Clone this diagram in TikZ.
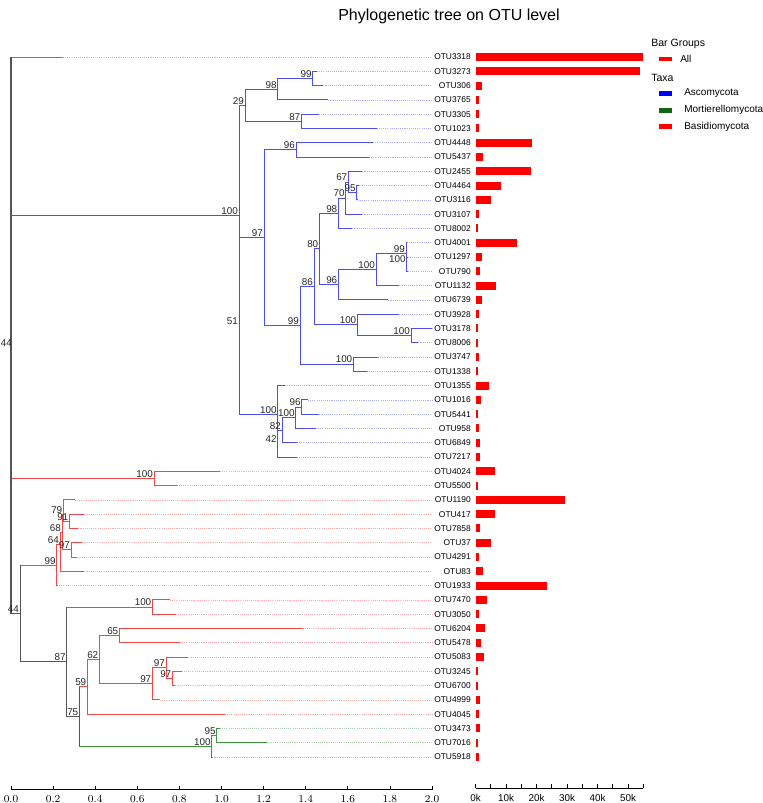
\documentclass[tikz,border=0pt]{standalone}
\usepackage{fontspec}
\setmainfont{Liberation Sans}
\definecolor{asco}{HTML}{4E4EEA}
\definecolor{basi}{HTML}{F04848}
\definecolor{mort}{HTML}{3A963A}
\definecolor{stemgray}{HTML}{555555}
\tikzset{
  br/.style={line width=0.75pt},
  stem/.style={line width=0.75pt, stemgray},
  leader/.style={#1!45, line width=0.5pt, dash pattern=on 0.8pt off 0.8pt},
  otu/.style={anchor=east, inner sep=0pt, font=\fontsize{6.3}{7}\selectfont},
  boot/.style={anchor=south east, inner sep=0.6pt, text=black!85, font=\fontsize{7.4}{8}\selectfont},
  bar/.style={fill=red},
  key/.style={minimum width=9.75pt, minimum height=3.5pt, inner sep=0pt},
  lg/.style={anchor=west, inner sep=0pt, font=\fontsize{7.5}{9}\selectfont},
  tick/.style={line width=0.6pt},
}
\begin{document}
\begin{tikzpicture}[x=0.75pt,y=-0.75pt]
\useasboundingbox (0,0) rectangle (763,803);

\node[font=\fontsize{12}{14}\selectfont] (title) at (449,16) {Phylogenetic tree on OTU level};

% leaves: row/name/tip/bar/taxon
\foreach \i/\n/\t/\b/\c in {
  1/OTU3318/63/167/basi, 2/OTU3273/317/164/asco, 3/OTU306/323.3/6/asco,
  4/OTU3765/328.3/3.7/asco, 5/OTU3305/319/3.7/asco, 6/OTU1023/376.7/3/asco,
  7/OTU4448/373/56.7/asco, 8/OTU5437/369/7/asco, 9/OTU2455/362.3/55.7/asco,
  10/OTU4464/359.3/25/asco, 11/OTU3116/357.7/15/asco, 12/OTU3107/362.3/3.3/asco,
  13/OTU8002/352.3/2.3/asco, 14/OTU4001/406.7/41.7/asco, 15/OTU1297/407.3/6/asco,
  16/OTU790/407.7/4/asco, 17/OTU1132/399.3/20/asco, 18/OTU6739/388.3/6.3/asco,
  19/OTU3928/399.3/3.3/asco, 20/OTU3178/431.7/2.7/asco, 21/OTU8006/418.3/2/asco,
  22/OTU3747/378/3.3/asco, 23/OTU1338/366.7/2/asco, 24/OTU1355/285/13/asco,
  25/OTU1016/308/5/asco, 26/OTU5441/319.3/2/asco, 27/OTU958/316/3.7/asco,
  28/OTU6849/297/4/asco, 29/OTU7217/296.7/4/asco, 30/OTU4024/220/19/basi,
  31/OTU5500/176.7/2/basi, 32/OTU1190/75/89.7/basi, 33/OTU417/84.3/19.7/basi,
  34/OTU7858/78.3/4.3/basi, 35/OTU37/82.3/15.7/basi, 36/OTU4291/77.3/3.3/basi,
  37/OTU83/84.3/7.7/basi, 38/OTU1933/57/71.3/basi, 39/OTU7470/170/11.7/basi,
  40/OTU3050/175.7/3/basi, 41/OTU6204/302.7/9.3/basi, 42/OTU5478/180/5.3/basi,
  43/OTU5083/188.3/8.3/basi, 44/OTU3245/181.7/2.7/basi, 45/OTU6700/175.3/2.3/basi,
  46/OTU4999/160/4.3/basi, 47/OTU4045/225/3.7/basi, 48/OTU3473/220/4/mort,
  49/OTU7016/266.7/2.7/mort, 50/OTU5918/212.3/3.3/mort}{
  \pgfmathsetmacro\y{57+14.2857*(\i-1)}
  \coordinate (l\i) at (\t,\y);
  \coordinate (d\i) at (432,\y);
  \draw[leader=\c] (l\i) -- (d\i);
  \node[otu] (otu\i) at (471,\y) {\n};
  \fill[bar] (475.5,\y-4) rectangle (475.5+\b,\y+4);
}

% inner nodes
\coordinate (R) at (11,335);
\coordinate (A100) at (239,215.7);
\coordinate (A29) at (245,105.2);
\coordinate (A98) at (277.7,89.2);
\coordinate (A99) at (312.7,78.45);
\coordinate (A87) at (301.3,121.25);
\coordinate (A51) at (239,326.15);
\coordinate (A97) at (264,237.7);
\coordinate (A96) at (296,149.85);
\coordinate (A99b) at (300,325.5);
\coordinate (A86) at (314,286.9);
\coordinate (A80) at (319.3,248.95);
\coordinate (A98b) at (338.3,213.2);
\coordinate (A70) at (345.7,198.05);
\coordinate (A67) at (348.3,182);
\coordinate (A95) at (356.7,192.75);
\coordinate (A96b) at (338.3,284.7);
\coordinate (A100b) at (376,269.5);
\coordinate (A99c) at (406,253.4);
\coordinate (A100a) at (406.7,264.15);
\coordinate (A100c) at (357.3,324.8);
\coordinate (A100f) at (411,335.55);
\coordinate (A100d) at (353.3,364.15);
\coordinate (A100e) at (277.7,414.6);
\coordinate (A42) at (277.7,443.6);
\coordinate (A82) at (282,430.2);
\coordinate (A100g) at (295.7,417.7);
\coordinate (A96c) at (301.7,407);
\coordinate (B100) at (154,478.45);
\coordinate (N44) at (20,613.5);
\coordinate (N99) at (56.7,565.2);
\coordinate (N64) at (60,544.8);
\coordinate (N68) at (62,532.2);
\coordinate (N79) at (63.3,514.6);
\coordinate (N91) at (69.3,521.25);
\coordinate (N97) at (71,549.85);
\coordinate (N87) at (66.7,661.8);
\coordinate (N100) at (152.3,607);
\coordinate (N75) at (79.3,716.6);
\coordinate (N59) at (87.3,686.9);
\coordinate (N62) at (99.3,659.7);
\coordinate (N65) at (119.3,635.55);
\coordinate (N97a) at (152.3,683.8);
\coordinate (N97b) at (166,667.7);
\coordinate (N97c) at (172.3,678.45);
\coordinate (G100) at (211.7,746.3);
\coordinate (G95) at (216.7,735.55);

% branches
\foreach \p/\c in {R/A100, A100/A29, A100/A51, A29/A98, A29/A87, A98/A99, A98/l4,
  A99/l2, A99/l3, A87/l5, A87/l6, A51/A97, A51/A100e, A97/A96, A97/A99b, A96/l7,
  A96/l8, A99b/A86, A99b/A100d, A86/A80, A86/A100c, A80/A98b, A80/A96b, A98b/A70,
  A98b/l13, A70/A67, A70/l12, A67/l9, A67/A95, A95/l10, A95/l11, A96b/A100b,
  A96b/l18, A100b/A99c, A100b/l17, A99c/l14, A99c/A100a, A100a/l15, A100a/l16,
  A100c/l19, A100c/A100f, A100f/l20, A100f/l21, A100d/l22, A100d/l23, A100e/l24,
  A100e/A42, A42/A82, A42/l29, A82/A100g, A82/l28, A100g/A96c, A100g/l27,
  A96c/l25, A96c/l26}
  \draw[br, asco] (\p) |- (\c);
\foreach \p/\c in {R/l1, R/B100, B100/l30, B100/l31, N44/N99, N99/N64, N99/l38,
  N64/N68, N64/l37, N68/N79, N68/N97, N79/l32, N79/N91, N91/l33, N91/l34, N97/l35,
  N97/l36, N87/N100, N100/l39, N100/l40, N75/N59, N59/N62, N59/l47, N62/N65,
  N62/N97a, N65/l41, N65/l42, N97a/N97b, N97a/l46, N97b/l43, N97b/N97c, N97c/l44,
  N97c/l45}
  \draw[br, basi] (\p) |- (\c);
\foreach \p/\c in {N75/G100, G100/G95, G100/l50, G95/l48, G95/l49}
  \draw[br, mort] (\p) |- (\c);
\foreach \p/\c in {R/N44, N44/N87, N87/N75}
  \draw[stem] (\p) |- (\c);
\draw[stem, line width=1.2pt] (l1 -| R) -- (N44 -| R);
\draw[stem] (N99 -| N44) -- (N87 -| N44);
\draw[stem] (N100 -| N87) -- (N75 -| N87);
\draw[stem] (N59 -| N75) -- (G100 -| N75);

% bootstrap values
\foreach \n/\v in {A100/100, A29/29, A98/98, A99/99, A87/87, A51/51, A97/97,
  A96/96, A99b/99, A86/86, A80/80, A98b/98, A70/70, A67/67, A95/95, A96b/96,
  A100b/100, A99c/99, A100a/100, A100c/100, A100f/100, A100d/100, A100e/100,
  A42/42, A82/82, A100g/100, A96c/96, B100/100, N44/44, N99/99, N64/64, N68/68,
  N79/79, N91/91, N97/97, N87/87, N100/100, N75/75, N59/59, N62/62, N65/65,
  N97a/97, N97b/97, N97c/97, G100/100, G95/95}
  \node[boot] (b\n) at (\n) {\v};
\node[boot, anchor=east] (bR) at ([xshift=1.5,yshift=-6]R) {44};

% tree axis
\coordinate (ax0) at (11,789.5);
\coordinate (ax1) at (432,789.5);
\draw[tick] (ax0) -- (ax1);
\foreach \k in {0,...,10}{
  \pgfmathsetmacro\v{0.2*\k}
  \draw[tick] (11+42.1*\k,789.5) -- ++(0,-4);
  \node[font=\fontsize{7.8}{9}\selectfont] (ax\k) at (11+42.1*\k,799.5)
    {\pgfmathprintnumber[fixed,fixed zerofill,precision=1]{\v}};
}

% bar axis
\coordinate (bx0) at (475.5,788);
\coordinate (bx1) at (643,788);
\draw[tick] (bx0) -- (bx1);
\foreach \k in {0,...,11}
  \draw[tick] (475.5+15.25*\k,788) -- ++(0,-4);
\foreach \k/\t in {0/0k, 1/10k, 2/20k, 3/30k, 4/40k, 5/50k}
  \node[font=\fontsize{7.4}{9}\selectfont] (bl\k) at (475.5+30.5*\k,797.5) {\t};

% legend
\node[lg, font=\fontsize{7.9}{9}\selectfont] (lgBar) at (651,44) {Bar Groups};
\node[key, fill=red] (kAll) at (665.5,59) {};
\node[lg] (tAll) at (680,58.5) {All};
\node[lg, font=\fontsize{7.9}{9}\selectfont] (lgTaxa) at (651,78) {Taxa};
\node[key, fill=blue] (kAsco) at (665.5,93.3) {};
\node[lg] (tAsco) at (684,93) {Ascomycota};
\node[key, fill={rgb,255:red,20;green,100;blue,20}] (kMort) at (665.5,110.7) {};
\node[lg] (tMort) at (684,110) {Mortierellomycota};
\node[key, fill=red] (kBasi) at (665.5,126.7) {};
\node[lg] (tBasi) at (684,126.5) {Basidiomycota};
\end{tikzpicture}
\end{document}
